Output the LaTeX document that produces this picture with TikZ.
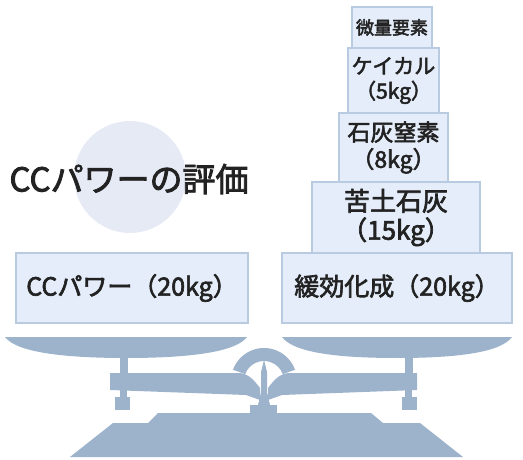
\documentclass[tikz,border=0pt]{standalone}
\usepackage{fontspec}
\setmainfont{Noto Sans CJK JP}[FakeBold=2.5]
\definecolor{boxfill}{HTML}{E4EDF9}
\definecolor{boxline}{HTML}{B9CBE1}
\definecolor{steel}{HTML}{9DB3CC}
\definecolor{halo}{HTML}{E5EAF5}
\definecolor{ink}{HTML}{222222}
\begin{document}
\begin{tikzpicture}[x=1pt,y=-1pt,
  box/.style={draw=boxline, fill=boxfill, line width=1.2pt, rectangle, align=center, inner sep=0pt, text=ink},
  part/.style={fill=steel, draw=none}]
\useasboundingbox (0,0) rectangle (523,460);

% weights on the pans
\node[box, minimum width=232pt, minimum height=70pt, font=\fontsize{25}{28}\selectfont] (cc) at (132,288) {CCパワー（20kg）};
\node[box, minimum width=230pt, minimum height=70pt, font=\fontsize{25}{28}\selectfont] (kanko) at (397,288) {緩効化成（20kg）};
\node[box, minimum width=168pt, minimum height=71pt, font=\fontsize{26}{29}\selectfont] (kudo) at (396,217.5) {苦土石灰\\（15kg）};
\node[box, minimum width=109pt, minimum height=69pt, font=\fontsize{23}{27}\selectfont] (sekkai) at (393.5,147.5) {石灰窒素\\（8kg）};
\node[box, minimum width=91pt, minimum height=65pt, font=\fontsize{21}{25}\selectfont] (keikal) at (393.5,80.5) {ケイカル\\（5kg）};
\node[box, minimum width=80pt, minimum height=41pt, font=\fontsize{18}{20}\selectfont] (biryo) at (392,27.5) {微量要素};

% heading
\node[circle, fill=halo, minimum size=112pt, inner sep=0pt] (halo) at (130,177) {};
\node[text=ink, font=\fontsize{33}{36}\selectfont, inner sep=0pt] (title) at (129,179) {CCパワーの評価};

% pans
\fill[steel] (5,337) -- (247,337) .. controls (236,352) and (190,358) .. (126,358)
  .. controls (62,358) and (16,352) .. (5,337) -- cycle;
\fill[steel] (282,337) -- (512,337) .. controls (501,352) and (460,358) .. (397,358)
  .. controls (334,358) and (293,352) .. (282,337) -- cycle;
\fill[steel] (120,355) rectangle (128,374);
\fill[steel] (405,355) rectangle (413,374);

% beam
\fill[steel] (110,373) -- (238,373) .. controls (248,373) and (254,380) .. (260,388)
  -- (260,400) -- (246,395) -- (110,390) -- cycle;
\fill[steel] (417,373) -- (290,373) .. controls (280,373) and (274,380) .. (268,388)
  -- (268,400) -- (282,395) -- (417,390) -- cycle;

% hanging weights
\fill[steel] (120,389) rectangle (127,398);
\fill[steel] (115,397) rectangle (130,410);
\fill[steel] (405,389) rectangle (412,398);
\fill[steel] (402,397) rectangle (417,410);

% dial and post
\fill[steel] (264,381) ++(-20:33) arc[start angle=-20, end angle=-160, radius=33]
  -- ++(-160:-13) arc[start angle=-160, end angle=-20, radius=20] -- cycle;
\fill[steel] (264,360) -- (267,372) -- (267,392) -- (270,405) -- (258,405) -- (261,392) -- (261,372) -- cycle;
\fill[steel] (250,405) rectangle (277,415);

% base
\fill[steel] (158,413) -- (371,413) -- (383,423) -- (420,423) -- (463,457)
  -- (70,457) -- (113,423) -- (148,423) -- cycle;
\end{tikzpicture}
\end{document}
